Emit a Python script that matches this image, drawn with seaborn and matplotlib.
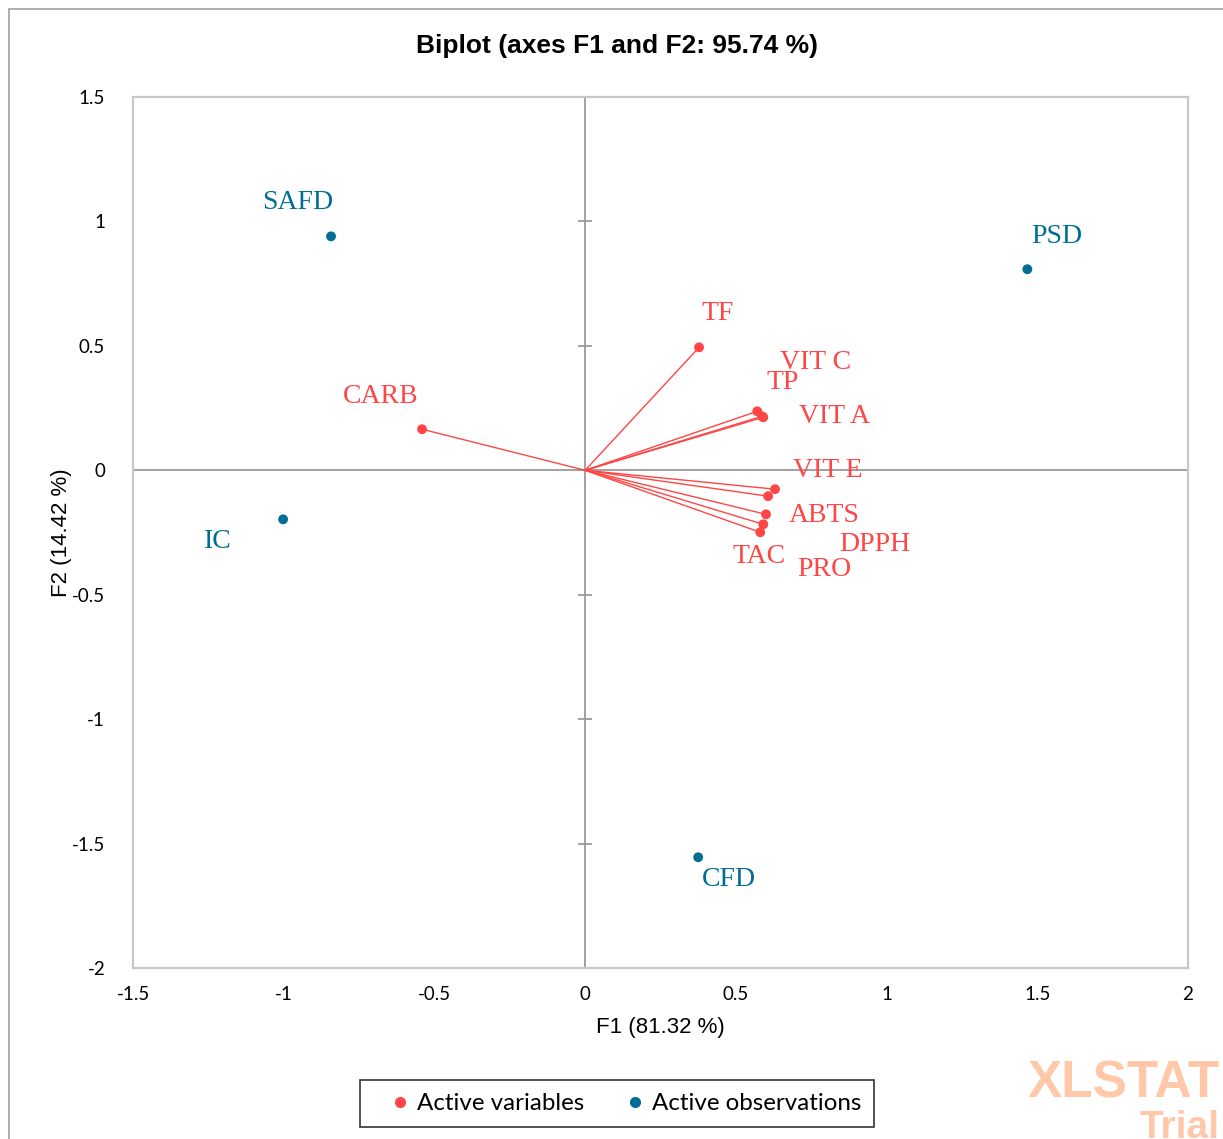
import numpy as np
import pandas as pd
import matplotlib
matplotlib.use('Agg')
import matplotlib.pyplot as plt
import seaborn as sns
from matplotlib.lines import Line2D
from matplotlib.patches import Rectangle

# ------------------------------------------------------
# data
# ------------------------------------------------------
var_names = ['TF', 'CARB', 'TP', 'VIT C', 'VIT A', 'VIT E', 'ABTS', 'DPPH', 'PRO', 'TAC']
var_f1 = [0.378, -0.541, 0.571, 0.591, 0.587, 0.630, 0.607, 0.600, 0.591, 0.581]
var_f2 = [0.494, 0.165, 0.237, 0.213, 0.217, -0.076, -0.104, -0.177, -0.217, -0.249]

obs_names = ['SAFD', 'PSD', 'IC', 'CFD']
obs_f1 = [-0.843, 1.467, -1.002, 0.375]
obs_f2 = [0.940, 0.808, -0.197, -1.555]

x_ticks = [-1.5, -1, -0.5, 0, 0.5, 1, 1.5, 2]
y_ticks = [-2, -1.5, -1, -0.5, 0, 0.5, 1, 1.5]

# label offsets in pixels (dx, dy up)
var_offsets = {'TF': (19, 34), 'CARB': (-41, 33), 'TP': (25, 29), 'VIT C': (52, 55),
               'VIT A': (72, 0), 'VIT E': (53, 19), 'ABTS': (56, -19), 'DPPH': (109, -30),
               'PRO': (61, -45), 'TAC': (-1, -24)}
obs_offsets = {'SAFD': (-33, 34), 'PSD': (29, 33), 'IC': (-65, -22), 'CFD': (31, -22)}

red = '#FF4545'
blue = '#006E94'

# ------------------------------------------------------
# build the frame for seaborn
# ------------------------------------------------------
points = pd.concat([
    pd.DataFrame({'F1': var_f1, 'F2': var_f2, 'kind': 'Active variables'}),
    pd.DataFrame({'F1': obs_f1, 'F2': obs_f2, 'kind': 'Active observations'}),
], ignore_index=True)

sns.set_style('white')
plt.rcParams['font.family'] = ['Liberation Sans', 'DejaVu Sans']
plt.rcParams['text.color'] = 'black'
plt.rcParams['axes.labelcolor'] = 'black'
plt.rcParams['xtick.color'] = 'black'
plt.rcParams['ytick.color'] = 'black'

fig = plt.figure(figsize=(12.23, 11.39), dpi=100)
ax = fig.add_axes([133 / 1223, 1 - 968 / 1139, (1188 - 133) / 1223, (968 - 97) / 1139])

# outer frame of the chart
fig.patches.append(Rectangle((9 / 1223, -0.05), 1.1, 1 - 9 / 1139 + 0.05, transform=fig.transFigure,
                             fill=False, edgecolor='#A0A0A0', linewidth=1.2))

# zero lines and cross ticks on the vertical one
ax.axhline(0, color='#9A9A9A', lw=1.3, zorder=1)
ax.axvline(0, color='#9A9A9A', lw=1.3, zorder=1)
ax.plot(np.zeros(len(y_ticks)), y_ticks, ls='none', marker='_', ms=10, mew=1.3,
        color='#9A9A9A', clip_on=False, zorder=1)

# vectors for the variables
for x, y in zip(var_f1, var_f2):
    ax.plot([0, x], [0, y], color=red, lw=1.0, zorder=2)

sns.scatterplot(data=points, x='F1', y='F2', hue='kind',
                palette={'Active variables': red, 'Active observations': blue},
                s=50, edgecolor='none', legend=False, ax=ax, zorder=3)

for name, x, y in zip(var_names, var_f1, var_f2):
    ax.annotate(name, (x, y), xytext=var_offsets[name], textcoords='offset pixels',
                ha='center', va='center', color=red, fontsize=20, family='Liberation Serif')
for name, x, y in zip(obs_names, obs_f1, obs_f2):
    ax.annotate(name, (x, y), xytext=obs_offsets[name], textcoords='offset pixels',
                ha='center', va='center', color=blue, fontsize=20, family='Liberation Serif')

ax.set_xlim(-1.5, 2)
ax.set_ylim(-2, 1.5)
ax.set_xticks(x_ticks)
ax.set_yticks(y_ticks)
ax.set_xticklabels([f'{t:g}' for t in x_ticks], family='Lato', fontsize=13.5)
ax.set_yticklabels([f'{t:g}' for t in y_ticks], family='Lato', fontsize=13.5)
ax.tick_params(axis='both', length=0)
ax.tick_params(axis='x', pad=13)
ax.tick_params(axis='y', pad=20)
for s in ax.spines.values():
    s.set_color('#C8C8C8')
    s.set_linewidth(1.6)

ax.set_xlabel('F1 (81.32 %)', fontsize=16)
ax.set_ylabel('F2 (14.42 %)', fontsize=16)
ax.xaxis.set_label_coords(0.5, -0.056)
ax.yaxis.set_label_coords(-0.058, 0.5)

fig.text(617 / 1223, 1 - 46 / 1139, 'Biplot (axes F1 and F2: 95.74 %)', ha='center', va='center',
         fontsize=19, fontweight='bold')

# legend
handles = [Line2D([], [], ls='none', marker='o', ms=7, color=red, label='Active variables'),
           Line2D([], [], ls='none', marker='o', ms=7, color=blue, label='Active observations')]
leg = fig.legend(handles=handles, loc='center', bbox_to_anchor=(617 / 1223, 1 - 1103.5 / 1139),
                 ncol=2, frameon=True, fancybox=False, edgecolor='black',
                 handlelength=2.2, handletextpad=-0.4, columnspacing=1.0, borderpad=0.55,
                 borderaxespad=0, prop={'family': 'Lato', 'size': 17.4})
leg.get_frame().set_linewidth(1.2)

# trial watermark
fig.text(1220 / 1223, 1 - 1097 / 1139, 'XLSTAT', ha='right', va='baseline', fontsize=37,
         fontweight='bold', color='#FFC9A9')
fig.text(1220 / 1223, 1 - 1138 / 1139, 'Trial', ha='right', va='baseline', fontsize=28,
         fontweight='bold', color='#FFC9A9')

fig.savefig('out.png', dpi=100)
